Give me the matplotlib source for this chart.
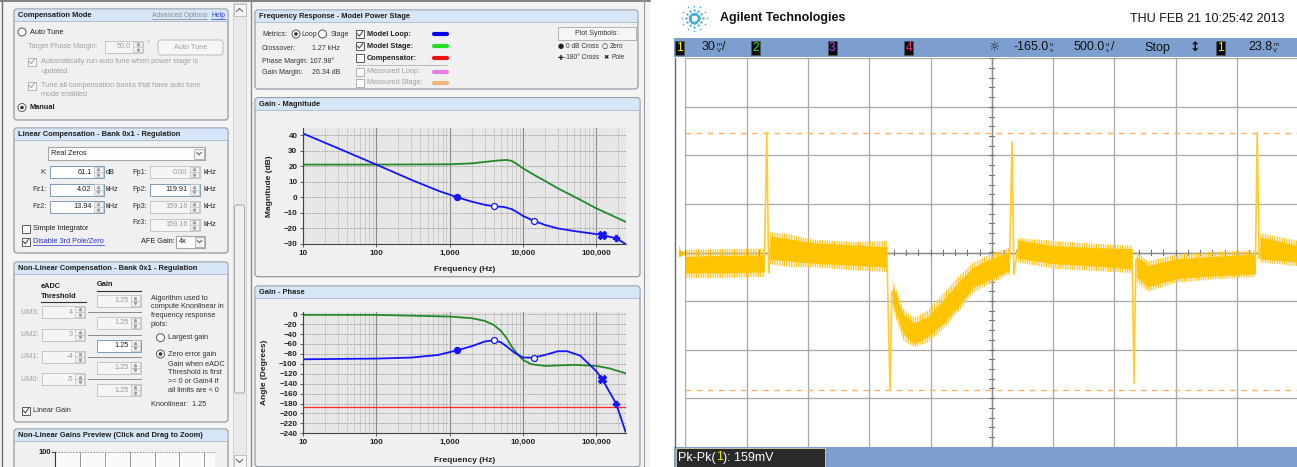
import numpy as np
import matplotlib.pyplot as plt
from matplotlib.patches import Rectangle, FancyBboxPatch, Circle
from matplotlib.ticker import FixedLocator, FixedFormatter, LogLocator, NullFormatter

plt.rcParams['font.family'] = ['Liberation Sans', 'DejaVu Sans']
plt.rcParams['hatch.linewidth'] = 0.7

W, H = 1297, 467

# ---- Bode data ----
freq_ticks = [10, 100, 1000, 10000, 100000]
freq_labels = ['10', '100', '1,000', '10,000', '100,000']

mag_f_loop = [10, 30, 100, 300, 700, 1270, 2000, 3000, 4020, 5500, 7000, 8500,
              10000, 13940, 20000, 30000, 50000, 80000, 119910, 187000, 250000]
mag_loop = [41, 31.5, 21, 11.2, 4.2, 0, -2.8, -4.8, -5.8, -6.2, -7.6, -9.8,
            -12, -15, -17.8, -20, -21.7, -23, -24.2, -26.34, -30]
mag_f_stage = [10, 100, 1000, 2000, 3000, 4500, 6000, 7000, 8000, 10000,
               15000, 20000, 30000, 50000, 100000, 250000]
mag_stage = [21, 21, 21.2, 21.8, 22.7, 23.6, 24, 23.4, 21.8, 18.6,
             13.7, 10.5, 5.7, 0.4, -7.1, -15.7]

ph_f_loop = [10, 100, 300, 700, 1270, 2000, 3000, 4020, 5000, 6000, 7500, 10000,
             13940, 20000, 30000, 40000, 60000, 80000, 100000, 119910, 187000, 250000]
ph_loop = [-90.8, -89.4, -87.4, -82, -72.6, -64.5, -55, -52.4, -56.5, -65, -76.6, -87.4,
           -87.4, -82, -74.6, -74.6, -83.4, -100.8, -115, -130.4, -180.8, -236.6]
ph_f_stage = [10, 100, 1000, 2000, 3000, 4000, 5000, 6000, 7000, 8000, 10000,
              13000, 20000, 50000, 100000, 150000, 250000]
ph_stage = [-1.3, -1.3, -4.7, -8, -13.4, -21.5, -33.6, -48.4, -65, -76.6, -92,
            -100.8, -104.2, -102, -104.2, -109, -119]

cross0_f, cross0_mag, cross0_ph = 1270, 0, -72.6
zero_f, zero_mag, zero_ph = [4020, 13940], [-5.8, -15], [-52.4, -87.4]
pole_f, pole_mag, pole_ph = [119910], [-24.2], [-130.4]
cross180_f, cross180_mag, cross180_ph = 187000, -26.34, -180
phase_ref = -187

# ---- scope trace, in screen divisions (10 x 8) ----
seg_x = [[-5, -4.4, -3.71],
         [-3.62, -3.3, -2.9, -2.3, -1.71],
         [-1.62, -1.45, -1.27, -1.05, -0.80, -0.55, -0.30, 0.0, 0.29],
         [0.42, 1.0, 1.7, 2.29],
         [2.36, 2.55, 3.0, 3.6, 4.30],
         [4.38, 5.0]]
seg_hi = [[-0.08, -0.06, -0.05],
          [0.34, 0.28, 0.2, 0.16, 0.12],
          [-0.68, -1.26, -1.45, -1.33, -0.99, -0.62, -0.30, -0.12, 0.02],
          [0.26, 0.14, 0.1, 0.08],
          [-0.08, -0.27, -0.13, -0.08, -0.03],
          [0.32, 0.14]]
seg_lo = [[-0.42, -0.42, -0.40],
          [-0.14, -0.18, -0.22, -0.26, -0.30],
          [-1.05, -1.67, -1.88, -1.74, -1.47, -1.12, -0.71, -0.54, -0.37],
          [-0.12, -0.23, -0.28, -0.34],
          [-0.51, -0.71, -0.54, -0.48, -0.44],
          [-0.13, -0.20]]
seg_out_hi = [[0.06, 0.07, 0.08],
              [0.42, 0.38, 0.26, 0.22, 0.24],
              [-0.55, -1.15, -1.35, -1.2, -0.85, -0.5, -0.2, -0.02, 0.1],
              [0.30, 0.24, 0.18, 0.14],
              [0.0, -0.18, -0.04, 0.02, 0.04],
              [0.40, 0.24]]
seg_out_lo = [[-0.52, -0.52, -0.50],
              [-0.24, -0.30, -0.30, -0.36, -0.40],
              [-1.15, -1.8, -1.95, -1.85, -1.58, -1.22, -0.82, -0.62, -0.44],
              [-0.2, -0.33, -0.38, -0.42],
              [-0.6, -0.8, -0.62, -0.55, -0.5],
              [-0.2, -0.28]]
spike_x = [-3.67, -1.66, 0.33, 2.32, 4.33]
spike_peak = [2.47, -2.84, 2.27, -2.70, 2.47]
spike_after = [-0.42, -0.80, -0.45, -0.15, -0.12]
cursor_y = [2.47, -2.84]

TXT = '#1e1e1e'
DIS = '#a2a2a2'

fig = plt.figure(figsize=(W / 100, H / 100), dpi=100)
bg = fig.add_axes([0, 0, 1, 1])
bg.set_xlim(0, W)
bg.set_ylim(H, 0)
bg.axis('off')
renderer = fig.canvas.get_renderer()


def ax_rect(x0, y0, x1, y1):
    return [x0 / W, 1 - y1 / H, (x1 - x0) / W, (y1 - y0) / H]


def rect(x0, y0, x1, y1, fc='none', ec='none', lw=0.8, z=1, rnd=0):
    if rnd:
        p = FancyBboxPatch((x0, y0), x1 - x0, y1 - y0,
                           boxstyle=f'round,pad=0,rounding_size={rnd}',
                           fc=fc, ec=ec, lw=lw, zorder=z)
    else:
        p = Rectangle((x0, y0), x1 - x0, y1 - y0, fc=fc, ec=ec, lw=lw, zorder=z)
    bg.add_patch(p)


def txt(x, y, s, size=5.3, color=TXT, weight='normal', ha='left', va='center', z=5, **kw):
    return bg.text(x, y, s, fontsize=size, color=color, fontweight=weight,
                   ha=ha, va=va, zorder=z, **kw)


def utxt(x, y, s, color, size=5.3):
    t = txt(x, y, s, size=size, color=color)
    e = t.get_window_extent(renderer)
    bg.plot([e.x0, e.x1], [y + 3.6, y + 3.6], color=color, lw=0.5, zorder=5)


def panel(x0, y0, x1, y1, title):
    rect(x0, y0, x1, y1, fc='#f0f0f0', ec='#8e9aa8', lw=0.9, z=1, rnd=3)
    rect(x0 + 0.6, y0 + 0.6, x1 - 0.6, y0 + 12, fc='#d6e6f6', z=1.1, rnd=2.5)
    rect(x0 + 0.6, y0 + 6, x1 - 0.6, y0 + 12, fc='#d6e6f6', z=1.1)
    bg.plot([x0, x1], [y0 + 12, y0 + 12], color='#a6b6c8', lw=0.6, zorder=1.2)
    txt(x0 + 4, y0 + 6.3, title, weight='bold', size=5.4)


def spin(x0, x1, y, val, on=True):
    fc = 'white' if on else '#f5f5f5'
    ec = '#7f9db9' if on else '#c6c6c6'
    rect(x0, y - 6, x1, y + 6, fc=fc, ec=ec, lw=0.7, z=2)
    sx = x1 - 10
    rect(sx, y - 5.3, x1 - 0.8, y + 5.3, fc='#f3f3f3', ec='#bdbdbd', lw=0.5, z=2.1)
    bg.plot([sx, x1 - 0.8], [y, y], color='#bdbdbd', lw=0.5, zorder=2.2)
    bg.plot([sx + 4.6], [y - 2.6], marker='^', ms=1.8, color='#a0a0a0', zorder=2.3)
    bg.plot([sx + 4.6], [y + 2.6], marker='v', ms=1.8, color='#a0a0a0', zorder=2.3)
    txt(sx - 2, y, val, color=TXT if on else '#9a9a9a', ha='right')


def check(x, y, on, enabled=True):
    rect(x - 4, y - 4, x + 4, y + 4, fc='white', ec='#5a5a5a' if enabled else '#b0b0b0', lw=0.7, z=2)
    if on:
        bg.plot([x - 2.5, x - 0.7, x + 2.6], [y + 0.1, y + 2.2, y - 2.4],
                color='#505050' if enabled else '#a8a8a8', lw=0.8, zorder=2.2)


def radio(x, y, on):
    bg.add_patch(Circle((x, y), 4, fc='white', ec='#5a5a5a', lw=0.7, zorder=2))
    if on:
        bg.add_patch(Circle((x, y), 1.8, fc='#333333', ec='none', zorder=2.1))


def combo_arrow(x0, x1, y):
    rect(x0, y - 5, x1, y + 5, fc='#f3f3f3', ec='#9a9a9a', lw=0.5, z=2.1)
    c = (x0 + x1) / 2
    bg.plot([c - 2.2, c, c + 2.2], [y - 1, y + 1.2, y - 1], color='#555', lw=0.7, zorder=2.2)


# ================= left GUI =================
rect(0, 0, 650, H, fc='#f4f4f4', z=0.1)
bg.plot([2, 2], [0, H], color='#707070', lw=1, zorder=0.3)
bg.plot([0, 650], [1, 1], color='#707070', lw=1.2, zorder=0.3)
bg.plot([250.5, 250.5], [0, H], color='#8a8a8a', lw=1, zorder=0.3)
bg.plot([644, 644], [0, H], color='#9a9a9a', lw=0.8, zorder=0.3)

panel(14, 9, 228, 120, 'Compensation Mode')
utxt(152, 15.3, 'Advanced Options', '#8c8c8c', size=4.9)
utxt(211, 15.3, 'Help', '#2b3fd0', size=4.9)
radio(22, 32, False)
txt(30, 32, 'Auto Tune')
txt(28, 47, 'Target Phase Margin:', color=DIS)
spin(105, 143, 47, '50.0', on=False)
txt(146.5, 45, '°', color=DIS)
rect(158, 40, 223, 55, fc='#f6f6f6', ec='#c2c2c2', z=2, rnd=3)
txt(190.5, 47.5, 'Auto Tune', color=DIS, ha='center')
check(32, 61.5, True, False)
txt(41, 61.5, 'Automatically run auto tune when power stage is', color=DIS)
txt(41, 71.5, 'updated', color=DIS)
check(32, 85.5, True, False)
txt(41, 85.5, 'Tune all compensation banks that have auto tune', color=DIS)
txt(41, 94.5, 'mode enabled', color=DIS)
radio(22, 107.5, True)
txt(30, 107.5, 'Manual', weight='bold')

panel(14, 128, 228, 253, 'Linear Compensation - Bank 0x1 - Regulation')
rect(48, 147, 205, 160, fc='white', ec='#a5a5a5', z=2)
txt(51, 153.5, 'Real Zeros')
combo_arrow(194, 204, 153.5)
lin_rows = [(172, 'K:', '61.1', 'dB', 'Fp1:', '0.00', False),
            (189.5, 'Fz1:', '4.02', 'kHz', 'Fp2:', '119.91', True),
            (207, 'Fz2:', '13.94', 'kHz', 'Fp3:', '159.16', False)]
for y, l1, v1, u1, l2, v2, en in lin_rows:
    txt(47, y, l1, ha='right', color='#333')
    spin(50, 103.5, y, v1, on=True)
    txt(106, y, u1)
    txt(147, y, l2, ha='right', color='#333')
    spin(150, 199.5, y, v2, on=en)
    txt(203, y, 'kHz')
txt(147, 222, 'Fz3:', ha='right', color='#333')
spin(150, 199.5, 225, '159.16', on=False)
txt(203, 225, 'kHz')
check(26, 228.5, False)
txt(33, 228.5, 'Simple Integrator')
check(26, 241.5, True)
utxt(33, 241.5, 'Disable 3rd Pole/Zero', '#2633c8')
txt(141, 241.5, 'AFE Gain:')
rect(176, 235.5, 205, 247.5, fc='white', ec='#a5a5a5', z=2)
txt(178.5, 241.5, '4x')
combo_arrow(195, 204, 241.5)

panel(14, 262, 228, 422, 'Non-Linear Compensation - Bank 0x1 - Regulation')
txt(41, 287, 'eADC', weight='bold')
txt(41, 296, 'Threshold', weight='bold')
bg.plot([41, 86], [301.5, 301.5], color='#333', lw=0.8, zorder=3)
txt(97, 284, 'Gain', weight='bold')
bg.plot([97, 141], [290.5, 290.5], color='#333', lw=0.8, zorder=3)
gain_y = [300.7, 323, 345.5, 367.5, 390]
for i, y in enumerate(gain_y):
    spin(97, 140.5, y, '1.25', on=(i == 2))
lim_rows = [('LIM3:', '4', 312), ('LIM2:', '3', 334.7), ('LIM1:', '-4', 357), ('LIM0:', '-5', 379.3)]
for lab, val, y in lim_rows:
    txt(20, y, lab, color=DIS)
    spin(41.5, 85, y, val, on=False)
    bg.plot([88, 141], [y, y], color='#8a8a8a', lw=0.7, zorder=1.5)
for i, s in enumerate(['Algorithm used to', 'compute Knonlinear in', 'frequency response', 'plots:']):
    txt(151, 298 + i * 8.7, s, color='#333')
radio(160.5, 337.7, False)
txt(168, 337.7, 'Largest gain', color='#333')
radio(160.5, 354, True)
for y, s in zip([354, 364, 372.7, 381.3, 390.3],
                ['Zero error gain', 'Gain when eADC', 'Threshold is first', '>= 0 or Gain4 if', 'all limits are < 0']):
    txt(168, y, s, color='#333')
txt(151, 405, 'Knonlinear:  1.25', color='#333')
check(26, 410.7, True)
txt(33, 410.7, 'Linear Gain', color='#333')

panel(14, 429, 228, 480, 'Non-Linear Gains Preview (Click and Drag to Zoom)')
rect(55, 452, 215, 470, fc='#fafafa', z=1.5)
txt(51, 452, '100', weight='bold', ha='right', size=5.4)
bg.plot([55, 215], [452, 452], color='#888', lw=0.6, ls=(0, (2, 1.5)), zorder=2)
bg.plot([52, 55], [452, 452], color='#333', lw=0.7, zorder=2)
for gx in [80, 105, 130, 155, 179, 204]:
    bg.plot([gx, gx], [452, H], color='#9a9a9a', lw=0.7, zorder=2)
bg.plot([55, 55], [452, H], color='#333', lw=0.8, zorder=2)

# scrollbar
rect(233, 3, 246, H, fc='#e9e9e9', ec='#c8c8c8', lw=0.5, z=1)
rect(233.5, 3.5, 245.5, 16, fc='#f4f4f4', ec='#b0b0b0', lw=0.5, z=1.2)
bg.plot([236.5, 239.5, 242.5], [11.5, 8.5, 11.5], color='#555', lw=0.7, zorder=1.3)
rect(234.5, 205, 244.5, 393, fc='#efefef', ec='#9c9c9c', lw=0.6, z=1.2, rnd=2)
rect(233.5, 455, 245.5, H, fc='#f4f4f4', ec='#b0b0b0', lw=0.5, z=1.2)
bg.plot([236.5, 239.5, 242.5], [459.5, 462.5, 459.5], color='#555', lw=0.7, zorder=1.3)

# ================= middle: frequency response =================
panel(255, 10, 638, 89, 'Frequency Response - Model Power Stage')
MS = 5.0
txt(262, 34, 'Metrics:', color='#333', size=MS)
radio(296, 34, True)
txt(301.5, 34, 'Loop', color='#333', size=MS)
radio(322.5, 34, False)
txt(330.5, 34, 'Stage', color='#333', size=MS)
txt(262, 48, 'Crossover:', color='#333', size=MS)
txt(311.5, 48, '1.27 kHz', color='#333', size=MS)
txt(262, 61, 'Phase Margin: 107.98°', color='#333', size=MS)
txt(262, 72, 'Gain Margin:', color='#333', size=MS)
txt(311.5, 72, '26.34 dB', color='#333', size=MS)
legend_rows = [(34, 'Model Loop:', '#0000ee', True, True),
               (46, 'Model Stage:', '#22dd22', True, True),
               (58, 'Compensator:', '#ee1111', False, True),
               (71.7, 'Measured Loop:', '#e280e2', False, False),
               (83, 'Measured Stage:', '#f0b578', False, False)]
for y, lab, col, on, en in legend_rows:
    check(360, y, on, en)
    txt(367, y, lab, weight='bold' if en else 'normal', color=TXT if en else DIS)
    bg.plot([434, 447], [y, y], color=col, lw=3, solid_capstyle='round', zorder=3)
bg.plot([357, 447], [64.7, 64.7], color='#b0b0b0', lw=0.6, zorder=3)
rect(558, 27.3, 636, 40, fc='#f6f6f6', ec='#a8a8a8', lw=0.6, z=2)
txt(597, 33.7, 'Plot Symbols:', ha='center', color='#333', size=MS)
txt(560.5, 46, '●', ha='center', size=5, family=['DejaVu Sans'])
txt(565.5, 46, '0 dB Cross', color='#333', size=4.8)
txt(605, 46, '○', ha='center', size=5, family=['DejaVu Sans'])
txt(610, 46, 'Zero', color='#333', size=4.8)
txt(560.5, 57.7, '✚', ha='center', size=5, family=['DejaVu Sans'])
txt(564.5, 57.7, '-180° Cross', color='#333', size=4.8)
txt(606, 57.7, '✖', ha='center', size=4.6, family=['DejaVu Sans'])
txt(611, 57.7, 'Pole', color='#333', size=4.8)

panel(255, 97.7, 640, 276.7, 'Gain - Magnitude')
panel(255, 286, 640, 466.7, 'Gain - Phase')

BLUE = '#1414ff'
GREEN = '#23892a'


def bode_axes(r, ylim, yticks, ylabel, lab_x, xlab_y):
    ax = fig.add_axes(ax_rect(*r))
    ax.set_xscale('log')
    ax.set_xlim(10, 2.54e5)
    ax.set_ylim(*ylim)
    ax.set_facecolor('#e7e7e7')
    ax.xaxis.set_major_locator(FixedLocator(freq_ticks))
    ax.xaxis.set_major_formatter(FixedFormatter(freq_labels))
    ax.xaxis.set_minor_locator(LogLocator(base=10, subs=np.arange(2, 10)))
    ax.xaxis.set_minor_formatter(NullFormatter())
    ax.set_yticks(yticks)
    ax.grid(True, which='major', axis='x', color='#8a8a8a', lw=0.8)
    ax.grid(True, which='minor', axis='x', color='#c6c6c6', lw=0.6)
    ax.grid(True, which='major', axis='y', color='#979797', lw=0.6, ls=(0, (2, 1.5)))
    ax.set_axisbelow(True)
    ax.tick_params(axis='both', which='major', labelsize=5.8, length=2.5, width=0.6,
                   color='#444', pad=1.5, labelcolor='#222')
    ax.tick_params(axis='x', which='minor', length=0)
    plt.setp(ax.get_xticklabels() + ax.get_yticklabels(), fontweight='bold')
    for s in ['top', 'right']:
        ax.spines[s].set_visible(False)
    for s in ['left', 'bottom']:
        ax.spines[s].set_color('#444')
        ax.spines[s].set_linewidth(0.8)
    ax.set_ylabel(ylabel, fontsize=6, fontweight='bold', color='#222')
    ax.yaxis.set_label_coords(lab_x, 0.5)
    ax.set_xlabel('Frequency (Hz)', fontsize=6, fontweight='bold', color='#222')
    ax.xaxis.set_label_coords(0.5, xlab_y)
    return ax


mag = bode_axes((303, 128, 626, 244), (-30, 44.5), np.arange(-30, 41, 10),
                'Magnitude (dB)', -0.092, -0.19)
mag.plot(mag_f_stage, mag_stage, color=GREEN, lw=1.3)
mag.plot(mag_f_loop, mag_loop, color=BLUE, lw=1.3)
mag.plot(cross0_f, cross0_mag, 'o', color=BLUE, ms=4.3)
mag.plot(zero_f, zero_mag, 'o', mfc='white', mec=BLUE, mew=0.9, ms=4.3)
mag.plot(pole_f, pole_mag, 'X', color=BLUE, ms=5.2)
mag.plot(cross180_f, cross180_mag, 'P', color=BLUE, ms=5)

ph = bode_axes((303, 311.5, 626, 433.3), (-240, 5.5), np.arange(-240, 1, 20),
               'Angle (Degrees)', -0.107, -0.195)
ph.axhline(phase_ref, color='#ff2a2a', lw=0.9)
ph.plot(ph_f_stage, ph_stage, color=GREEN, lw=1.3)
ph.plot(ph_f_loop, ph_loop, color=BLUE, lw=1.3)
ph.plot(cross0_f, cross0_ph, 'o', color=BLUE, ms=4.3)
ph.plot(zero_f, zero_ph, 'o', mfc='white', mec=BLUE, mew=0.9, ms=4.3)
ph.plot(pole_f, pole_ph, 'X', color=BLUE, ms=5.2)
ph.plot(cross180_f, cross180_ph, 'P', color=BLUE, ms=5)

# ================= right: oscilloscope =================
rect(650, 0, W, H, fc='white', z=0.2)
# logo
for ang in np.arange(0, 360, 30):
    a = np.deg2rad(ang)
    for r, s in zip([4.5, 8.5, 12.5], [4.5, 2.6, 1.2]):
        bg.scatter(694 + r * np.cos(a), 18 + r * np.sin(a), s=s, color='#3aa9dd', lw=0, zorder=4)
txt(720, 18.5, 'Agilent Technologies', size=9, weight='bold', color='#111')
txt(1285, 18.5, 'THU FEB 21 10:25:42 2013', size=9, ha='right', color='#111')

BAR = '#7d9fcf'
rect(673.5, 37.7, W, 57.5, fc=BAR, z=2)
rect(673.5, 446.7, W, H, fc=BAR, z=2)
bg.plot([674.7, 674.7], [57.5, 446.7], color='#6a6a6a', lw=1, zorder=2)


def chan_box(x0, num, col):
    rect(x0, 40.5, x0 + 9, 54.5, fc='#0c0c0c', ec='#555', lw=0.5, z=3)
    txt(x0 + 4.5, 47.8, num, size=8.5, color=col, ha='center')


def scope_val(x, y, num, top, bot, tail=''):
    t = txt(x, y, num, size=9, color='#111')
    xe = t.get_window_extent(renderer).x1
    txt(xe + 0.6, y - 3.0, top, size=4.4, color='#111')
    txt(xe + 0.6, y + 2.6, bot, size=4.4, color='#111')
    if tail:
        txt(xe + 6.2, y, tail, size=9, color='#111')


chan_box(675, '1', '#f2f200')
scope_val(702, 47.5, '30', 'm', 'V', '/')
chan_box(751, '2', '#33e033')
chan_box(827.5, '3', '#b144f0')
chan_box(904, '4', '#f0266e')
txt(994.5, 47.5, '☼', size=9, ha='center', color='#222', family=['DejaVu Sans'])
scope_val(1014, 47.5, '-165.0', 'u', 's')
scope_val(1074, 47.5, '500.0', 'u', 's', '/')
txt(1144, 47.5, 'Stop', size=9, color='#111')
txt(1195, 47.5, '↕', size=9, ha='center', weight='bold', color='#111', family=['DejaVu Sans'])
chan_box(1215.5, '1', '#f2f200')
scope_val(1248.5, 47.5, '23.8', 'm', 'V')

rect(676, 448.3, 825, 466.7, fc='#2a2a2a', ec='#c9c7a8', lw=0.7, z=3)
x = 678
for s, c in [('Pk-Pk(', 'white'), ('1', '#f2f200'), ('): 159mV', 'white')]:
    t = txt(x, 457.5, s, size=9, color=c)
    x = t.get_window_extent(renderer).x1

sc = fig.add_axes(ax_rect(685.3, 58.3, 685.3 + 613, 446.7))
sc.set_xlim(-5, 5)
sc.set_ylim(-4, 4)
sc.set_xticks(range(-5, 6))
sc.set_yticks(range(-4, 5))
sc.grid(True, color='#a8a8a8', lw=0.9)
sc.tick_params(length=0, labelleft=False, labelbottom=False)
for s in sc.spines.values():
    s.set_visible(False)
sc.set_facecolor('white')
sc.axhline(0, color='#8c8c8c', lw=1.0)
sc.axvline(0, color='#8c8c8c', lw=1.0)
for tx in np.arange(-5, 5.01, 0.2):
    sc.plot([tx, tx], [-0.05, 0.05], color='#777', lw=0.8)
for ty in np.arange(-4, 4.01, 0.2):
    sc.plot([-0.04, 0.04], [ty, ty], color='#777', lw=0.8)
for cy in cursor_y:
    sc.axhline(cy, color='#ffb062', lw=1.0, dashes=(4, 4))

TRACE = '#ffc400'
for xs, hi, lo, ohi, olo in zip(seg_x, seg_hi, seg_lo, seg_out_hi, seg_out_lo):
    sc.fill_between(xs, olo, ohi, color='#ffe07a', alpha=0.35, lw=0, zorder=3)
    sc.fill_between(xs, olo, ohi, facecolor='none', edgecolor='#ffc21a', hatch='|||||||',
                    lw=0, zorder=3.05)
    sc.fill_between(xs, lo, hi, color=TRACE, lw=0, zorder=3.1)
for i, (sx, pk, af) in enumerate(zip(spike_x, spike_peak, spike_after)):
    y0 = (seg_hi[i][-1] + seg_lo[i][-1]) / 2
    y1 = (seg_hi[i + 1][0] + seg_lo[i + 1][0]) / 2
    sc.plot([seg_x[i][-1], sx, sx + 0.03, seg_x[i + 1][0]], [y0, pk, af, y1],
            color='#ffcc2e', lw=1.2, zorder=3.2)

# trigger / ground markers
bg.plot([1011.7], [61], marker='v', ms=5, color='#ff8a1c', zorder=6)
bg.plot([992], [60.5], marker='v', ms=5, mfc='none', mec='#ff9a40', mew=0.8, zorder=6)
bg.plot([992, 992], [60, 66], color='#ff9a40', lw=0.7, zorder=6)
bg.plot([681.5], [252.7], marker='>', ms=4, color='#f2c200', zorder=6)
txt(677.5, 249, '1', size=4.5, color='#e0b800')

fig.savefig('out.png', dpi=100)
